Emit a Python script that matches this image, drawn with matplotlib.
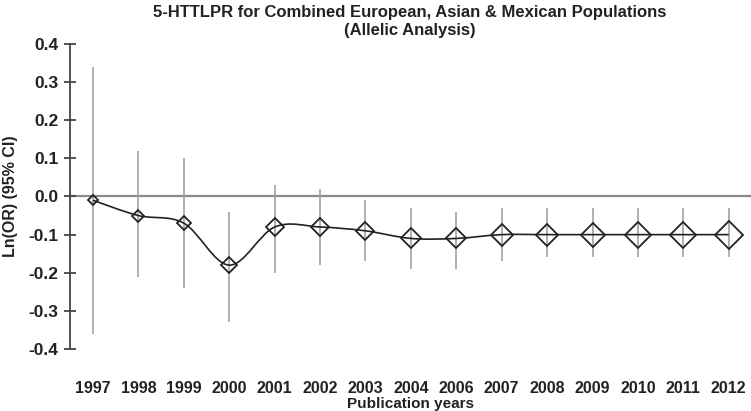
import numpy as np
import matplotlib
matplotlib.use("Agg")
import matplotlib.pyplot as plt
from matplotlib.path import Path
from matplotlib.patches import PathPatch

plt.rcParams['font.family'] = ['Liberation Sans', 'DejaVu Sans']
plt.rcParams['font.weight'] = 'bold'

years = ['1997', '1998', '1999', '2000', '2001', '2002', '2003', '2004',
         '2006', '2007', '2008', '2009', '2010', '2011', '2012']
ln_or = [-0.01, -0.05, -0.07, -0.18, -0.08, -0.08, -0.09, -0.11,
         -0.11, -0.10, -0.10, -0.10, -0.10, -0.10, -0.10]
ci_low = [-0.36, -0.21, -0.24, -0.33, -0.20, -0.18, -0.17, -0.19,
          -0.19, -0.17, -0.16, -0.16, -0.16, -0.16, -0.16]
ci_high = [0.34, 0.12, 0.10, -0.04, 0.03, 0.02, -0.01, -0.03,
           -0.04, -0.03, -0.03, -0.03, -0.03, -0.03, -0.03]
y_ticks = [-0.4, -0.3, -0.2, -0.1, 0.0, 0.1, 0.2, 0.3, 0.4]
y_tick_labels = ['-0.4', '-0.3', '-0.2', '-0.1', '0.0', '0.1', '0.2', '0.3', '0.4']

# marker size grows with the cumulative weight (style only)
marker_size = [6.5, 8, 9, 10, 11, 11, 12, 13, 13, 14, 14, 15, 16, 16.5, 17.5]

fig = plt.figure(figsize=(7.51, 4.11), dpi=100)
ax = fig.add_axes([70 / 751, 1 - 349 / 411, 1 - 70 / 751, (349 - 44) / 411])

x = np.arange(len(years))
y = np.array(ln_or)

# error bars
ax.vlines(x, ci_low, ci_high, color='#9a9a9a', lw=1.1, zorder=2)

# zero line
ax.axhline(0, color='#8a8a8a', lw=1.6, zorder=1)

# smooth curve through the points (Catmull-Rom as cubic Bezier)
verts = [(x[0], y[0])]
codes = [Path.MOVETO]
for i in range(len(x) - 1):
    p0 = np.array([x[max(i - 1, 0)], y[max(i - 1, 0)]])
    p1 = np.array([x[i], y[i]])
    p2 = np.array([x[i + 1], y[i + 1]])
    p3 = np.array([x[min(i + 2, len(x) - 1)], y[min(i + 2, len(x) - 1)]])
    c1 = p1 + (p2 - p0) / 6
    c2 = p2 - (p3 - p1) / 6
    verts += [tuple(c1), tuple(c2), tuple(p2)]
    codes += [Path.CURVE4] * 3
ax.add_patch(PathPatch(Path(verts, codes), fill=False, ec='#222222', lw=1.2, zorder=3))

# diamonds
for xi, yi, ms in zip(x, y, marker_size):
    ax.plot(xi, yi, marker='D', ms=ms / 1.25, mfc='none', mec='#222222', mew=1.3,
            zorder=4, clip_on=False)

ax.set_xlim(-0.507, 14.49)
ax.set_ylim(-0.4, 0.4)
ax.set_yticks(y_ticks)
ax.set_yticklabels(y_tick_labels)
ax.set_xticks(x)
ax.set_xticklabels(years)

for s in ['top', 'right', 'bottom']:
    ax.spines[s].set_visible(False)
ax.spines['left'].set_color('#444444')
ax.spines['left'].set_linewidth(1.3)
ax.tick_params(axis='y', direction='inout', length=8.5, width=1.3, color='#444444',
               labelsize=12.5, pad=4, labelcolor='#222222')
ax.tick_params(axis='x', length=0, labelsize=11.5, pad=23, labelcolor='#222222')

ax.set_xlabel('Publication years', fontsize=11, fontweight='bold', labelpad=1, color='#222222')
ax.set_ylabel('Ln(OR) (95% CI)', fontsize=11.5, fontweight='bold', color='#222222')
ax.yaxis.set_label_coords(-0.077, 0.5)
fig.text(0.546, 1 - 12 / 411, '5-HTTLPR for Combined European, Asian & Mexican Populations',
         ha='center', va='center', fontsize=12, fontweight='bold', color='#222222')
fig.text(0.546, 1 - 30 / 411, '(Allelic Analysis)',
         ha='center', va='center', fontsize=12, fontweight='bold', color='#222222')

fig.savefig('out.png', dpi=100)
